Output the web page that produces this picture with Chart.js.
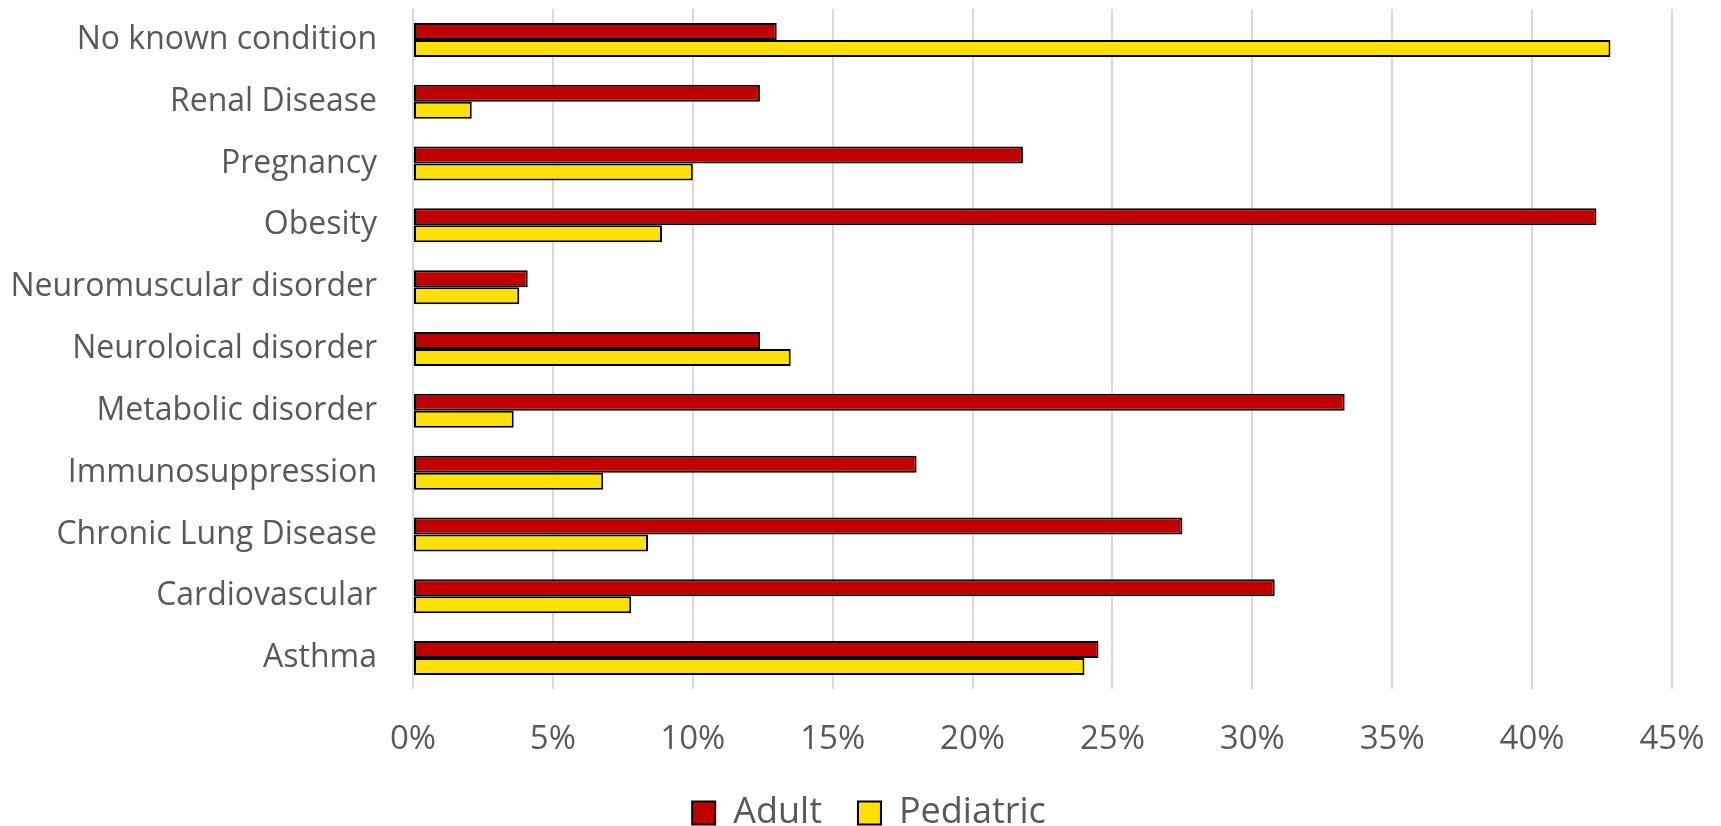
<!DOCTYPE html>
<html>
<head>
<meta charset="utf-8">
<script src="https://cdn.jsdelivr.net/npm/chart.js@4"></script>
<style>
  html, body { margin: 0; padding: 0; background: #fff; }
  #wrap { width: 1721px; height: 826px; }
</style>
</head>
<body>
<div id="wrap"><canvas id="condChart" width="1721" height="826"></canvas></div>
<script>
const conditions = ['No known condition', 'Renal Disease', 'Pregnancy', 'Obesity', 'Neuromuscular disorder',
    'Neuroloical disorder', 'Metabolic disorder', 'Immunosuppression', 'Chronic Lung Disease', 'Cardiovascular', 'Asthma'];
const adult = [13.0, 12.4, 21.8, 42.3, 4.1, 12.4, 33.3, 18.0, 27.5, 30.8, 24.5];
const pediatric = [42.8, 2.1, 10.0, 8.9, 3.8, 13.5, 3.6, 6.8, 8.4, 7.8, 24.0];
const xTicks = [0, 5, 10, 15, 20, 25, 30, 35, 40, 45];

const txt = '#595959';
const fam = "'Open Sans', sans-serif";

// excel centres the legend under the whole chart, nudge it over
const legendNudge = {
    id: 'legendNudge',
    afterLayout(chart) {
        chart.legend.left += 33;
        chart.legend.right += 33;
    }
};

const ctx = document.getElementById('condChart').getContext('2d');
new Chart(ctx, {
    type: 'bar',
    data: {
        labels: conditions,
        datasets: [
            { label: 'Adult', data: adult, backgroundColor: '#C00000', borderColor: '#000', borderWidth: 2, borderSkipped: false },
            { label: 'Pediatric', data: pediatric, backgroundColor: '#FFE005', borderColor: '#000', borderWidth: 2, borderSkipped: false }
        ]
    },
    options: {
        indexAxis: 'y',
        responsive: false,
        animation: false,
        layout: { padding: { top: 9, right: 49, left: 0, bottom: -15 } },
        datasets: { bar: { categoryPercentage: 0.55, barPercentage: 1.0 } },
        scales: {
            x: {
                min: 0, max: 45,
                afterBuildTicks: s => { s.ticks = xTicks.map(v => ({ value: v })); },
                afterFit: s => { s.height = 70; s.paddingLeft = 0; s.paddingRight = 0; },
                grid: { color: '#D9D9D9', lineWidth: 2, drawTicks: false },
                border: { display: false },
                ticks: { color: txt, font: { family: fam, size: 33 }, padding: 31, callback: v => v + '%' }
            },
            y: {
                afterFit: s => { s.width = 413; s.paddingTop = 0; s.paddingBottom = 0; },
                grid: { display: false, drawTicks: false },
                border: { display: false },
                ticks: { color: txt, font: { family: fam, size: 32 }, padding: 36 }
            }
        },
        plugins: {
            legend: {
                position: 'bottom',
                labels: { color: txt, font: { family: fam, size: 36 }, boxWidth: 23, boxHeight: 23, padding: 36 }
            },
            tooltip: { enabled: false }
        }
    },
    plugins: [legendNudge]
});
</script>
</body>
</html>
